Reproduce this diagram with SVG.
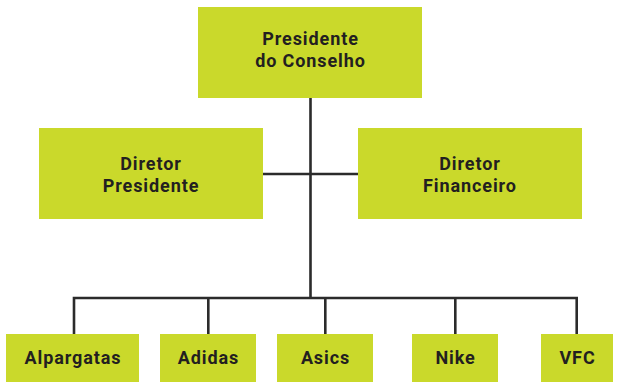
<svg xmlns="http://www.w3.org/2000/svg" width="617" height="383" viewBox="0 0 617 383">
<style>
.box{fill:#cad92b}
.t{font-family:Roboto,"Liberation Sans",sans-serif;font-weight:bold;font-size:18px;fill:#231f20;text-anchor:middle;letter-spacing:0.9px}
.c{stroke:#2b2b2b;stroke-width:2.6;fill:none}
</style>
<rect width="617" height="383" fill="#ffffff"/>
<g id="connectors">
<path class="c" d="M310.5 98V298M263 174H358M74 298H577M74 296.7V334M208.3 298V334M325.3 298V334M455.3 298V334M576.7 296.7V334"/>
</g>
<g id="presidente-conselho">
<rect class="box" x="198" y="7" width="224" height="91"/>
<text class="t" x="310.5" y="45">Presidente</text>
<text class="t" x="310.5" y="67">do Conselho</text>
</g>
<g id="diretor-presidente">
<rect class="box" x="39" y="128" width="224" height="91"/>
<text class="t" x="151" y="170">Diretor</text>
<text class="t" x="151" y="192">Presidente</text>
</g>
<g id="diretor-financeiro">
<rect class="box" x="358" y="128" width="224" height="91"/>
<text class="t" x="470" y="170">Diretor</text>
<text class="t" x="470" y="192">Financeiro</text>
</g>
<g id="alpargatas">
<rect class="box" x="6" y="334" width="133" height="48"/>
<text class="t" x="73" y="364">Alpargatas</text>
</g>
<g id="adidas">
<rect class="box" x="160" y="334" width="96" height="48"/>
<text class="t" x="208.5" y="364">Adidas</text>
</g>
<g id="asics">
<rect class="box" x="277" y="334" width="96" height="48"/>
<text class="t" x="325.5" y="364">Asics</text>
</g>
<g id="nike">
<rect class="box" x="412" y="334" width="86" height="48"/>
<text class="t" x="455.5" y="364">Nike</text>
</g>
<g id="vfc">
<rect class="box" x="541" y="334" width="72" height="48"/>
<text class="t" x="577.5" y="364">VFC</text>
</g>
</svg>
